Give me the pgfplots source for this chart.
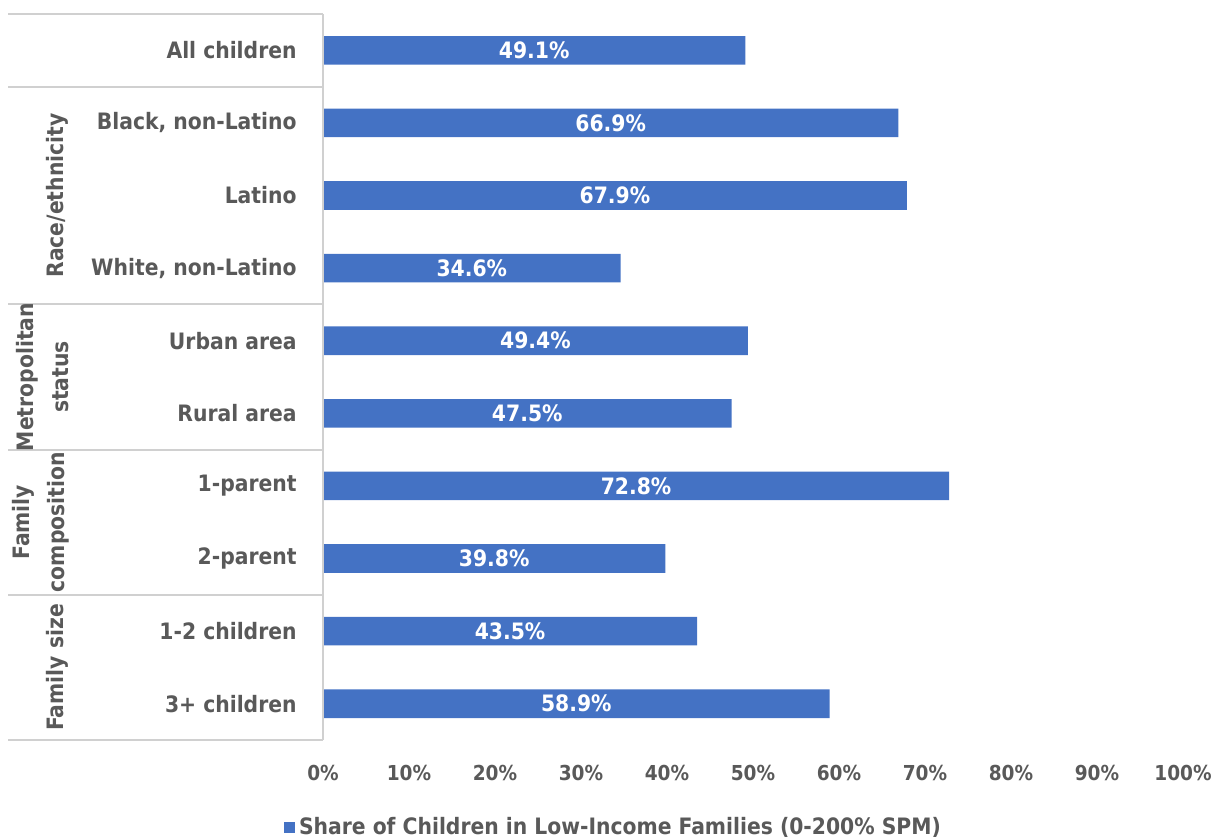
\documentclass[border=0pt]{standalone}
\usepackage{pgfplots}
\pgfplotsset{compat=1.18}
\usepackage{pgfplotstable}
\usepackage{fontspec}
\setmainfont{DejaVu Sans Condensed}
\definecolor{barblue}{HTML}{4472C4}
\definecolor{txtgray}{HTML}{595959}
\definecolor{linegray}{HTML}{D0D0D0}
\pgfplotstableread{
row v
1 49.1
2 66.9
3 67.9
4 34.6
5 49.4
6 47.5
7 72.8
8 39.8
9 43.5
10 58.9
}\datatable
\newcommand{\ff}{\fontsize{11.3}{13.5}\selectfont\bfseries}
\begin{document}
\begin{tikzpicture}
\useasboundingbox (0,0) rectangle (605.5pt,420pt);
\begin{axis}[
  at={(161.5pt,50pt)}, anchor=south west,
  scale only axis, width=430pt, height=363pt,
  xmin=0, xmax=100, ymin=0.5, ymax=10.5, y dir=reverse,
  clip=false,
  axis line style={draw=none},
  major tick length=0pt,
  font=\ff,
  every tick label/.append style={text=txtgray},
  xtick={0,10,...,100},
  xticklabels={0\%,10\%,20\%,30\%,40\%,50\%,60\%,70\%,80\%,90\%,100\%},
  xticklabel style={anchor=center, yshift=-16.5pt, font=\fontsize{10.3}{12}\selectfont\bfseries},
  ytick={1,...,10},
  yticklabels={All children,{Black, non-Latino},Latino,{White, non-Latino},Urban area,Rural area,1-parent,2-parent,1-2 children,3+ children},
  yticklabel style={anchor=east, inner sep=0pt, xshift=-13pt},
  legend style={at={(-0.046,-0.121)}, anchor=west, draw=none, fill=none,
    text=txtgray, font=\ff, inner sep=0pt},
  legend image code/.code={\fill[barblue] (0pt,-2.8pt) rectangle (5.6pt,2.8pt);},
]
\addplot[xbar, bar width=14.3pt, fill=barblue, draw=none] table[x=v, y=row] {\datatable};
\addlegendentry{Share of Children in Low-Income Families (0-200\% SPM)}
\addplot[draw=none, mark=none, forget plot,
  nodes near coords={\pgfmathprintnumber[fixed,precision=1,fixed zerofill,assume math mode=true]{\pgfplotspointmeta}\%},
  point meta=\thisrow{v},
  every node near coord/.append style={anchor=center, text=white, font=\ff}]
  table[x expr=\thisrow{v}/2, y=row] {\datatable};
\draw[linegray, line width=1pt] (axis cs:0,0.5) -- (axis cs:0,10.5);
\pgfplotsinvokeforeach{0.5,1.5,4.5,6.5,8.5,10.5}{
  \draw[linegray, line width=1pt] (axis cs:0,#1) -- ++(-157.5pt,0pt);
}
\node[rotate=90, text=txtgray, align=center] at ([xshift=-133pt]axis cs:0,3) {Race/ethnicity};
\node[rotate=90, text=txtgray, align=center, font=\fontsize{11.3}{17.5}\selectfont\bfseries] at ([xshift=-140pt]axis cs:0,5.5) {Metropolitan\\status};
\node[rotate=90, text=txtgray, align=center, font=\fontsize{11.3}{17.5}\selectfont\bfseries] at ([xshift=-141pt]axis cs:0,7.5) {Family\\composition};
\node[rotate=90, text=txtgray, align=center] at ([xshift=-133pt]axis cs:0,9.5) {Family size};
\end{axis}
\end{tikzpicture}
\end{document}
